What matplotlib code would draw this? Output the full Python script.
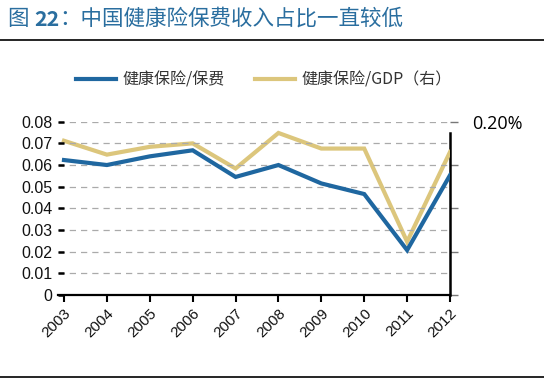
import matplotlib
matplotlib.use("Agg")
import matplotlib.pyplot as plt
from matplotlib.lines import Line2D
from matplotlib.ticker import FixedLocator

plt.rcParams['font.family'] = ['Liberation Sans', 'Noto Sans CJK SC', 'DejaVu Sans']

years = [2003, 2004, 2005, 2006, 2007, 2008, 2009, 2010, 2011, 2012]
health_premium = [0.0623, 0.0600, 0.0640, 0.0668, 0.0545, 0.0600, 0.0515, 0.0466, 0.0207, 0.0553]
health_gdp = [0.00178, 0.00162, 0.00171, 0.00175, 0.00146, 0.00187, 0.00169, 0.00169, 0.000615, 0.00165]
left_ticks = [0, 0.01, 0.02, 0.03, 0.04, 0.05, 0.06, 0.07, 0.08]
left_labels = ['0', '0.01', '0.02', '0.03', '0.04', '0.05', '0.06', '0.07', '0.08']
right_ticks = [0, 0.0005, 0.001, 0.0015, 0.002]
right_labels = ['', '', '', '', '0.20%']
title_parts = ['图 ', '22', '：中国健康险保费收入占比一直较低']
names = ['健康保险/保费', '健康保险/GDP（右）']

blue = '#1f67a0'
gold = '#dcc67c'
title_c = '#2a6e9f'
cjk = ['Noto Sans CJK SC', 'DejaVu Sans']

fig = plt.figure(figsize=(5.44, 3.82), dpi=100)
ax = fig.add_axes([58/544, 87/382, 392/544, 173.3/382])

ax.plot(years, health_premium, color=blue, lw=3.0, zorder=4, solid_joinstyle='miter')
ax.set_xlim(2003 - 6/42.9, 2012)
ax.set_ylim(0, 0.08)
ax.set_yticks(left_ticks)
ax.set_yticklabels(left_labels, fontsize=11.5, color='#111111')
ax.set_xticks(years)
ax.set_xticklabels([str(y) for y in years], rotation=45, ha='right', va='top',
                   rotation_mode='anchor', fontsize=11, color='#111111')
ax.tick_params(axis='y', direction='in', length=4, width=1.8, pad=4, color='black')
ax.tick_params(axis='x', direction='out', length=5, width=1.5, pad=3, color='black')
ax.grid(axis='y', color='#aaaaaa', linestyle=(0, (5, 4)), lw=0.9)
for s in ['left', 'top', 'right']:
    ax.spines[s].set_visible(False)
ax.spines['bottom'].set_linewidth(1.6)

ax2 = ax.twinx()
ax2.plot(years, health_gdp, color=gold, lw=3.0, zorder=3, solid_joinstyle='miter')
ax.set_zorder(ax2.get_zorder() + 1)
ax.patch.set_visible(False)
ax2.set_ylim(0, 0.002)
ax2.yaxis.set_major_locator(FixedLocator(right_ticks))
ax2.set_yticklabels(right_labels, fontsize=13, family=['Open Sans', 'DejaVu Sans'])
ax2.tick_params(axis='y', direction='out', length=6, width=1.0, color='#777777', pad=10)
for s in ['left', 'top', 'bottom']:
    ax2.spines[s].set_visible(False)
ax2.spines['right'].set_linewidth(1.8)
ax2.spines['right'].set_bounds(0, 0.00187)

t0 = fig.text(8/544, 1 - 19/382, title_parts[0], fontsize=15.5, color=title_c,
              va='center', ha='left', family=cjk)
t1 = fig.text(0, 0, title_parts[1], fontsize=15.5, color=title_c, weight='bold',
              va='center', ha='left', family=cjk)
t2 = fig.text(0, 0, title_parts[2], fontsize=15.5, color=title_c,
              va='center', ha='left', family=cjk)
fig.canvas.draw()
r = fig.canvas.get_renderer()
x1 = fig.transFigure.inverted().transform(t0.get_window_extent(r))[1][0]
t1.set_position((x1, 1 - 19/382))
x2 = fig.transFigure.inverted().transform(t1.get_window_extent(r))[1][0]
t2.set_position((x2, 1 - 19/382))

fig.add_artist(Line2D([0, 1], [1 - 40/382, 1 - 40/382], color='black', lw=1.2))
fig.add_artist(Line2D([0, 1], [1 - 377/382, 1 - 377/382], color='black', lw=1.2))

handles = [Line2D([], [], color=blue, lw=3.0), Line2D([], [], color=gold, lw=3.0)]
fig.legend(handles, names, loc='center', bbox_to_anchor=(264/544, 1 - 80/382), ncol=2,
           frameon=False, handlelength=2.5, columnspacing=1.9, handletextpad=0.4,
           prop={'family': cjk, 'size': 11.5})
for t in fig.legends[0].get_texts():
    t.set_color('#333333')

fig.savefig('out.png', dpi=100)
